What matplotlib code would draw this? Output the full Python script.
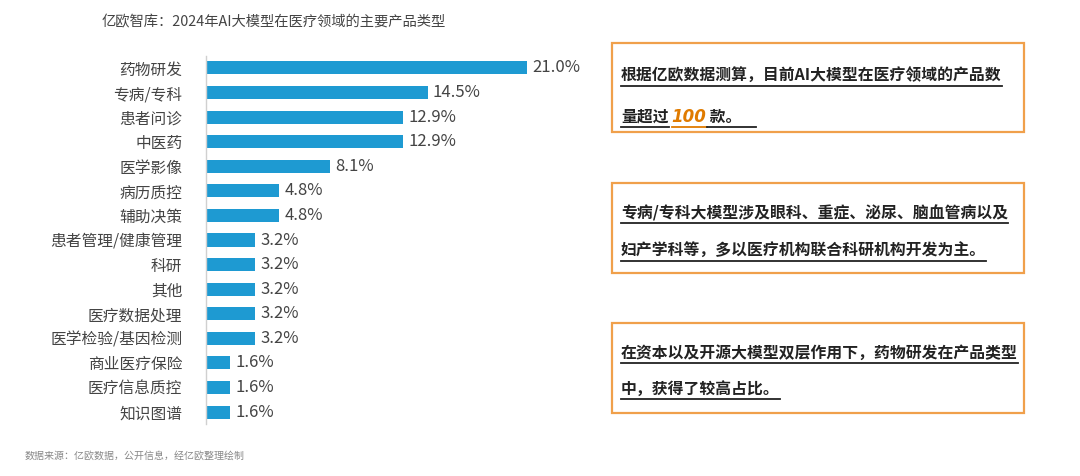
import matplotlib
matplotlib.use("Agg")
import matplotlib.pyplot as plt
from matplotlib.patches import Rectangle
from matplotlib.lines import Line2D

plt.rcParams['font.family'] = ['Noto Sans CJK SC', 'DejaVu Sans']

categories = ["药物研发", "专病/专科", "患者问诊", "中医药", "医学影像", "病历质控", "辅助决策",
              "患者管理/健康管理", "科研", "其他", "医疗数据处理", "医学检验/基因检测",
              "商业医疗保险", "医疗信息质控", "知识图谱"]
values = [21.0, 14.5, 12.9, 12.9, 8.1, 4.8, 4.8, 3.2, 3.2, 3.2, 3.2, 3.2, 1.6, 1.6, 1.6]
value_labels = ["21.0%", "14.5%", "12.9%", "12.9%", "8.1%", "4.8%", "4.8%", "3.2%", "3.2%",
                "3.2%", "3.2%", "3.2%", "1.6%", "1.6%", "1.6%"]

title = "亿欧智库：2024年AI大模型在医疗领域的主要产品类型"
source = "数据来源：亿欧数据，公开信息，经亿欧整理绘制"
box1_line1 = "根据亿欧数据测算，目前AI大模型在医疗领域的产品数"
box1_line2 = ["量超过", "100", " 款。"]
box2_lines = ["专病/专科大模型涉及眼科、重症、泌尿、脑血管病以及", "妇产学科等，多以医疗机构联合科研机构开发为主。"]
box3_lines = ["在资本以及开源大模型双层作用下，药物研发在产品类型", "中，获得了较高占比。"]

W, H = 1080, 476
fig = plt.figure(figsize=(W / 100, H / 100), dpi=100)
fig.patch.set_facecolor("white")

def fx(px):
    return px / W

def fy(py):
    return 1 - py / H

# axes
top_px, bot_px = 55.7, 424.3
ax = fig.add_axes([fx(206), fy(bot_px), fx(382), (bot_px - top_px) / H])
y = list(range(len(categories)))
ax.barh(y, values, height=0.53, color="#1E9AD2")
ax.set_xlim(0, 25)
ax.set_ylim(len(categories) - 0.5, -0.5)
ax.set_yticks(y)
ax.set_yticklabels(categories, fontsize=11.3, color="#444444")
ax.tick_params(axis="y", length=0, pad=17)
ax.set_xticks([])
for s in ["top", "right", "bottom"]:
    ax.spines[s].set_visible(False)
ax.spines["left"].set_color("#d0d0d0")
ax.spines["left"].set_linewidth(1.0)
for yi, v, lab in zip(y, values, value_labels):
    ax.text(v + 0.35, yi, lab, va="center", ha="left", fontsize=12, color="#444444")

fig.text(fx(102), fy(22), title, fontsize=10.3, color="#444444", va="center", ha="left")
fig.text(fx(25), fy(456), source, fontsize=7.2, color="#888888", va="center", ha="left")

# boxes
orange = "#F0A04B"
boxes = [(612, 43, 1024, 132), (612, 183, 1024, 273), (612, 323, 1024, 413)]
for (x0, y0, x1, y1) in boxes:
    fig.patches.append(Rectangle((fx(x0), fy(y1)), fx(x1 - x0), (y1 - y0) / H,
                                 transform=fig.transFigure, fill=False,
                                 edgecolor=orange, linewidth=1.6))

txt_kw = dict(fontsize=11.4, color="#222222", weight="bold", va="baseline", ha="left")
texts = []  # (text obj, underline color)

def add_line(x, ybase, s, color="#222222", **kw):
    d = dict(txt_kw)
    d["color"] = color
    d.update(kw)
    t = fig.text(fx(x), fy(ybase), s, **d)
    texts.append((t, color))
    return t

base_off = 6  # baseline below visual center in px
add_line(621, 75 + base_off, box1_line1)
t1 = add_line(621, 116 + base_off, box1_line2[0])
add_line(621, 213 + base_off, box2_lines[0])
add_line(621, 250 + base_off, box2_lines[1])
add_line(621, 352 + base_off, box3_lines[0])
add_line(621, 388 + base_off, box3_lines[1])

fig.canvas.draw()
r = fig.canvas.get_renderer()
bb = t1.get_window_extent(r)
t2 = fig.text(bb.x1 / W + fx(3), fy(116 + base_off), box1_line2[1], fontsize=12, color="#E07B00",
              weight="bold", style="italic", va="baseline", ha="left",
              family=["DejaVu Sans"])
texts.append((t2, "#E07B00"))
fig.canvas.draw()
bb2 = t2.get_window_extent(r)
t3 = fig.text(bb2.x1 / W, fy(116 + base_off), box1_line2[2], **txt_kw)
texts.append((t3, "#222222"))
fig.canvas.draw()

for t, c in texts:
    b = t.get_window_extent(r)
    xs, ys = t.get_position()
    yline = ys - 4.5 / H
    x_end = b.x1 / W + (fx(14) if t is t3 else 0)
    fig.lines.append(Line2D([b.x0 / W, x_end], [yline, yline], transform=fig.transFigure,
                            color=c, linewidth=1.3))

fig.savefig("out.png", dpi=100, facecolor="white")
